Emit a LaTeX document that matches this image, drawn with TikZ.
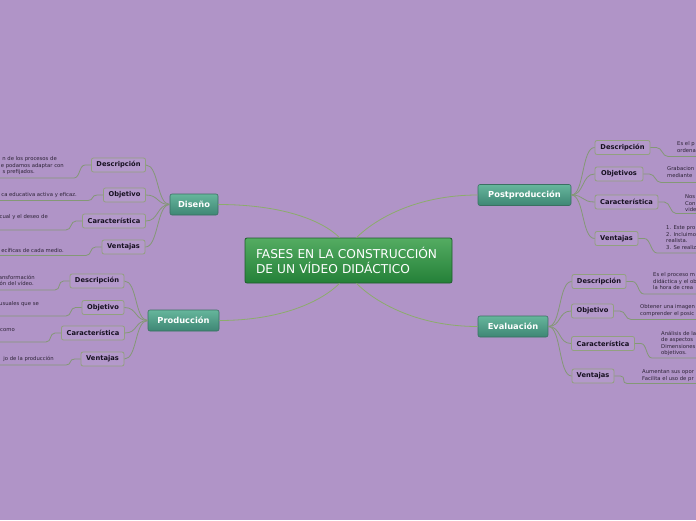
\documentclass[tikz,border=0pt]{standalone}
\usepackage{fontspec}
\setmainfont{DejaVu Sans}
\definecolor{bg}{RGB}{176,148,199}
\definecolor{lnk}{RGB}{140,172,108}
\definecolor{sublnk}{RGB}{132,152,118}
\definecolor{subbd}{RGB}{146,160,128}
\definecolor{subfill}{RGB}{180,153,203}
\definecolor{subtxt}{RGB}{22,16,32}
\definecolor{leaftxt}{RGB}{45,35,55}
\definecolor{ctop}{RGB}{84,172,98}
\definecolor{cbot}{RGB}{36,128,56}
\definecolor{cbd}{RGB}{30,92,44}
\definecolor{mtop}{RGB}{102,182,156}
\definecolor{mbot}{RGB}{62,134,116}
\definecolor{mbd}{RGB}{58,112,98}
\tikzset{
  corebox/.style={draw=cbd, line width=0.8pt, rounded corners=2pt, top color=ctop, bottom color=cbot,
    text=white, font=\fontsize{12.2}{15}\selectfont, align=left, text width=185pt,
    inner xsep=11pt, inner ysep=0pt, minimum height=45pt},
  mainbox/.style={draw=mbd, line width=0.6pt, rounded corners=2pt, top color=mtop, bottom color=mbot,
    text=white, font=\fontsize{8.3}{10}\selectfont\bfseries, minimum height=21pt, inner sep=0pt},
  subbox/.style={draw=subbd, line width=0.8pt, rounded corners=2pt, fill=subfill, text=subtxt,
    font=\fontsize{6.7}{8}\selectfont\bfseries, minimum height=14pt, inner sep=0pt},
  trunk/.style={draw=lnk, line width=0.8pt},
  twig/.style={draw=sublnk, line width=0.8pt},
  leafL/.style={anchor=base east, inner sep=0pt, text=leaftxt, font=\fontsize{5.3}{6.5}\selectfont},
  leafR/.style={anchor=north west, inner sep=0pt, align=left, text=leaftxt, font=\fontsize{5.3}{6.5}\selectfont},
}
\begin{document}
\begin{tikzpicture}[x=1pt,y=-1pt]
\useasboundingbox (0,0) rectangle (696,520);
\fill[bg] (0,0) rectangle (696,520);
\clip (0,0) rectangle (696,520);

% core and main branches
\node[corebox] (core) at (348.5,260.5) {FASES EN LA CONSTRUCCIÓN\\DE UN VÍDEO DIDÁCTICO};
\node[mainbox, minimum width=48pt] (dis) at (194,204.5) {Diseño};
\node[mainbox, minimum width=71pt] (pro) at (183.5,320.5) {Producción};
\node[mainbox, minimum width=93pt] (post) at (524.5,195) {Postproducción};
\node[mainbox, minimum width=70pt] (eva) at (513,326.5) {Evaluación};

\draw[trunk] (dis.east) .. controls +(62,0) and +(-18,-18) .. ([xshift=-9pt]core.north);
\draw[trunk] (pro.east) .. controls +(62,0) and +(-18,18) .. ([xshift=-9pt]core.south);
\draw[trunk] (post.west) .. controls +(-62,0) and +(18,-18) .. ([xshift=8pt]core.north);
\draw[trunk] (eva.west) .. controls +(-62,0) and +(18,18) .. ([xshift=8pt]core.south);

% sub nodes
\node[subbox, minimum width=54pt] (dd) at (118.5,165) {Descripción};
\node[subbox, minimum width=42pt] (do) at (124.5,195) {Objetivo};
\node[subbox, minimum width=63pt] (dc) at (114,221) {Característica};
\node[subbox, minimum width=43pt] (dv) at (123.5,247) {Ventajas};

\node[subbox, minimum width=54pt] (pd) at (97,281) {Descripción};
\node[subbox, minimum width=42pt] (po) at (103,307.5) {Objetivo};
\node[subbox, minimum width=63pt] (pc) at (93,333) {Característica};
\node[subbox, minimum width=43pt] (pv) at (102.5,359) {Ventajas};

\node[subbox, minimum width=55pt] (qd) at (622.5,147.5) {Descripción};
\node[subbox, minimum width=48pt] (qo) at (619,174) {Objetivos};
\node[subbox, minimum width=63pt] (qc) at (626.5,202) {Característica};
\node[subbox, minimum width=43pt] (qv) at (616.5,238.5) {Ventajas};

\node[subbox, minimum width=54pt] (ed) at (599,281.5) {Descripción};
\node[subbox, minimum width=42pt] (eo) at (592.5,311) {Objetivo};
\node[subbox, minimum width=63pt] (ec) at (603,343.5) {Característica};
\node[subbox, minimum width=42pt] (ev) at (593,376) {Ventajas};

\foreach \s in {dd,do,dc,dv} \draw[twig] (dis.west) .. controls +(-13,0) and +(13,0) .. (\s.east);
\foreach \s in {pd,po,pc,pv} \draw[twig] (pro.west) .. controls +(-13,0) and +(13,0) .. (\s.east);
\foreach \s in {qd,qo,qc,qv} \draw[twig] (post.east) .. controls +(13,0) and +(-13,0) .. (\s.west);
\foreach \s in {ed,eo,ec,ev} \draw[twig] (eva.east) .. controls +(13,0) and +(-13,0) .. (\s.west);

% leaf coordinates (left)
\coordinate (ddU) at (74,178);   \coordinate (ddE) at (-4,178);
\coordinate (doU) at (88,200.5); \coordinate (doE) at (-4,200.5);
\coordinate (dcU) at (66,230);   \coordinate (dcE) at (-4,230);
\coordinate (dvU) at (86,255.5); \coordinate (dvE) at (-4,255.5);
\coordinate (pdU) at (55,290);   \coordinate (pdE) at (-4,290);
\coordinate (poU) at (66,316);   \coordinate (poE) at (-4,316);
\coordinate (pcU) at (46,342);   \coordinate (pcE) at (-4,342);
\coordinate (pvU) at (66,365);   \coordinate (pvE) at (-4,365);
\foreach \s in {dd,do,dc,dv,pd,po,pc,pv}
  \draw[twig] (\s.west) -- ++(-6,0) .. controls +(-6,0) and +(6,0) .. (\s U) -- (\s E);

% leaf coordinates (right)
\coordinate (qdU) at (668,156.5); \coordinate (qdE) at (700,156.5);
\coordinate (qoU) at (661,182.5); \coordinate (qoE) at (700,182.5);
\coordinate (qcU) at (676,213.5); \coordinate (qcE) at (700,213.5);
\coordinate (qvU) at (657,253);   \coordinate (qvE) at (700,253);
\coordinate (edU) at (644,294);   \coordinate (edE) at (700,294);
\coordinate (eoU) at (631,319.5); \coordinate (eoE) at (700,319.5);
\coordinate (ecU) at (652,358);   \coordinate (ecE) at (700,358);
\coordinate (evU) at (627,383.5); \coordinate (evE) at (700,383.5);
\foreach \s in {qd,qo,qc,qv,ed,eo,ec,ev}
  \draw[twig] (\s.east) -- ++(6,0) .. controls +(6,0) and +(-6,0) .. (\s U) -- (\s E);

% left leaf texts
\node[leafL] (t1) at (57,160.5) {n de los procesos de};
\node[leafL] (t2) at (64,167) {e podamos adaptar con};
\node[leafL] (t3) at (35,173.5) {s prefijados.};
\node[leafL] (t4) at (77,196.5) {ca educativa activa y eficaz.};
\node[leafL] (t5) at (48,218.5) {cual y el deseo de};
\node[leafL] (t6) at (64,252.5) {ecíficas de cada medio.};
\node[leafL] (t7) at (35,279) {ansformación};
\node[leafL] (t8) at (34,285.5) {ión del vídeo.};
\node[leafL] (t9) at (39,305.5) {usuales que se};
\node[leafL] (t10) at (15,331.5) {como};
\node[leafL] (t11) at (54,360) {jo de la producción};

% right leaf texts
\node[leafR] (r1) at (677,141.7) {Es el p\\ordena};
\node[leafR] (r2) at (667,166.7) {Grabacion\\mediante};
\node[leafR] (r3) at (685,194.7) {Nos\\Con\\vide};
\node[leafR] (r4) at (666,225.7) {1. Este pro\\2. Incluimo\\realista.\\3. Se realiz};
\node[leafR] (r5) at (653,272.7) {Es el proceso m\\didáctica y el ob\\la hora de crea};
\node[leafR] (r6) at (640,304.7) {Obtener una imagen\\comprender el posic};
\node[leafR] (r7) at (661,330.7) {Análisis de la\\de aspectos\\Dimensiones\\objetivos.};
\node[leafR] (r8) at (642,369.7) {Aumentan sus opor\\Facilita el uso de pr};
\end{tikzpicture}
\end{document}
